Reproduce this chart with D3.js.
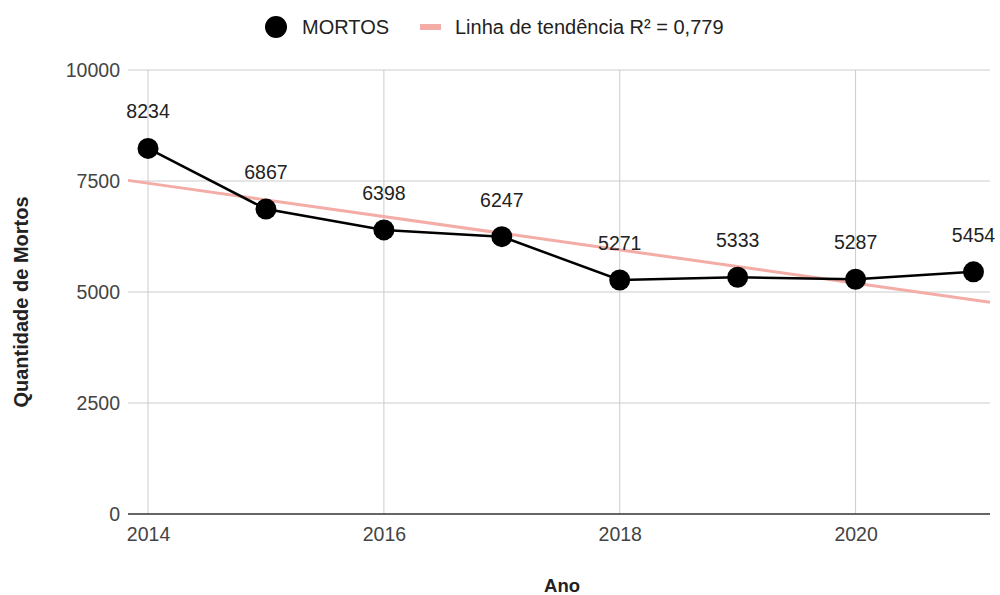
<!DOCTYPE html>
<html>
<head>
<meta charset="utf-8">
<script src="https://cdn.jsdelivr.net/npm/d3@7"></script>
<style>
  body { margin: 0; background: #fff; }
  text { font-family: Arial, "Liberation Sans", sans-serif; }
</style>
</head>
<body>
<svg id="chart" width="1000" height="595"></svg>
<script>
// data
var anos = [2014, 2015, 2016, 2017, 2018, 2019, 2020, 2021];
var mortos = [8234, 6867, 6398, 6247, 5271, 5333, 5287, 5454];
var yTicks = [0, 2500, 5000, 7500, 10000];
var xTicks = [2014, 2016, 2018, 2020];
var r2Label = "Linha de tendência R² = 0,779";

var svg = d3.select("#chart");
var plotLeft = 128, plotRight = 990, plotTop = 70, plotBottom = 514;
var fontFam = "Arial, 'Liberation Sans', sans-serif";

var x = d3.scaleLinear().domain([2013.83, 2021.14]).range([plotLeft, plotRight]);
var y = d3.scaleLinear().domain([0, 10000]).range([plotBottom, plotTop]);

// gridlines
svg.append("g").selectAll("line")
    .data(yTicks.filter(function (d) { return d > 0; }))
    .enter().append("line")
    .attr("x1", plotLeft).attr("x2", plotRight)
    .attr("y1", function (d) { return y(d); })
    .attr("y2", function (d) { return y(d); })
    .attr("stroke", "#cccccc").attr("stroke-width", 1);

svg.append("g").selectAll("line")
    .data(xTicks)
    .enter().append("line")
    .attr("x1", function (d) { return x(d); })
    .attr("x2", function (d) { return x(d); })
    .attr("y1", plotTop).attr("y2", plotBottom)
    .attr("stroke", "#cccccc").attr("stroke-width", 1);

// y axis labels
var yAxis = svg.append("g")
    .attr("transform", "translate(" + plotLeft + ",0)")
    .call(d3.axisLeft(y).tickValues(yTicks).tickSize(0).tickPadding(8).tickFormat(d3.format("d")));
yAxis.select(".domain").remove();
yAxis.selectAll("text").attr("font-size", 19.5).attr("fill", "#444").attr("font-family", fontFam);

// x axis labels
var xAxis = svg.append("g")
    .attr("transform", "translate(0," + plotBottom + ")")
    .call(d3.axisBottom(x).tickValues(xTicks).tickSize(0).tickPadding(13).tickFormat(d3.format("d")));
xAxis.select(".domain").remove();
xAxis.selectAll("text").attr("font-size", 19.5).attr("fill", "#444").attr("font-family", fontFam);

// baseline
svg.append("line")
    .attr("x1", plotLeft).attr("x2", plotRight)
    .attr("y1", y(0)).attr("y2", y(0))
    .attr("stroke", "#333").attr("stroke-width", 1.5);

// linear trend from the data
var mx = d3.mean(anos), my = d3.mean(mortos);
var sxy = d3.sum(anos, function (a, i) { return (a - mx) * (mortos[i] - my); });
var sxx = d3.sum(anos, function (a) { return (a - mx) * (a - mx); });
var slope = sxy / sxx, inter = my - slope * mx;
var dom = x.domain();
svg.append("line")
    .attr("x1", x(dom[0])).attr("y1", y(inter + slope * dom[0]))
    .attr("x2", x(dom[1])).attr("y2", y(inter + slope * dom[1]))
    .attr("stroke", "#f4aca6").attr("stroke-width", 3);

// series line
var pts = anos.map(function (a, i) { return { ano: a, v: mortos[i] }; });
svg.append("path")
    .datum(pts)
    .attr("fill", "none")
    .attr("stroke", "#000")
    .attr("stroke-width", 2.5)
    .attr("d", d3.line().x(function (d) { return x(d.ano); }).y(function (d) { return y(d.v); }));

svg.append("g").selectAll("circle")
    .data(pts)
    .enter().append("circle")
    .attr("cx", function (d) { return x(d.ano); })
    .attr("cy", function (d) { return y(d.v); })
    .attr("r", 10.5)
    .attr("fill", "#000");

svg.append("g").selectAll("text")
    .data(pts)
    .enter().append("text")
    .attr("x", function (d) { return x(d.ano); })
    .attr("y", function (d) { return y(d.v) - 30; })
    .attr("text-anchor", "middle")
    .attr("font-size", 19.5)
    .attr("fill", "#222")
    .text(function (d) { return d.v; });

// axis titles
svg.append("text")
    .attr("x", 562).attr("y", 592)
    .attr("text-anchor", "middle")
    .attr("font-size", 18.5).attr("font-weight", "bold")
    .attr("font-family", fontFam)
    .attr("fill", "#222")
    .text("Ano");

svg.append("text")
    .attr("transform", "translate(28," + 302 + ") rotate(-90)")
    .attr("text-anchor", "middle")
    .attr("font-size", 20).attr("font-weight", "bold")
    .attr("font-family", fontFam)
    .attr("fill", "#222")
    .text("Quantidade de Mortos");

// legend
var lg = svg.append("g");
lg.append("circle").attr("cx", 276).attr("cy", 27).attr("r", 11).attr("fill", "#000");
lg.append("text").attr("x", 302).attr("y", 34).attr("font-size", 20).attr("fill", "#222").text("MORTOS");
lg.append("line").attr("x1", 420).attr("x2", 441).attr("y1", 27).attr("y2", 27)
    .attr("stroke", "#f4aca6").attr("stroke-width", 6);
lg.append("text").attr("x", 455).attr("y", 34).attr("font-size", 20).attr("fill", "#222").text(r2Label);
</script>
</body>
</html>
